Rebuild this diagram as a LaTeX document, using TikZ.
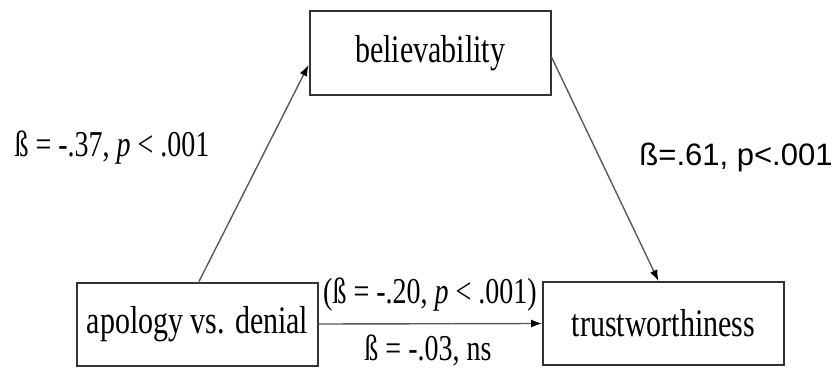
\documentclass[tikz,border=0pt]{standalone}
\usepackage{fontspec}
\setmainfont{Liberation Serif}
\newfontfamily\arialfont{Liberation Sans}
\usetikzlibrary{arrows.meta}
\newcommand{\stretchy}[1]{\scalebox{1}[1.3]{#1}}
\begin{document}
\begin{tikzpicture}[x=1pt, y=-1pt,
        box/.style={draw=black!80, line width=2pt, minimum width=241pt, minimum height=83pt, inner sep=0pt, font=\fontsize{30}{36}\selectfont},
        link/.style={draw=black!65, line width=1.4pt, -{Latex[length=11pt,width=8pt,color=black]}},
        coef/.style={inner sep=0pt, font=\fontsize{28}{34}\selectfont},
        sanscoef/.style={inner sep=0pt, font=\arialfont\fontsize{31}{36}\selectfont}]
    \useasboundingbox (0,0) rectangle (838,369);
    \node[box] (bel) at (430,53) {\stretchy{believability}};
    \node[box] (apo) at (197.5,324) {\stretchy{apology vs. denial}};
    \node[box] (trust) at (663.5,323.5) {\stretchy{trustworthiness}};
    \draw[link] ([xshift=1.5pt]apo.north) -- ([yshift=-12pt]bel.west);
    \draw[link] ([yshift=-4pt]bel.east) -- ([xshift=-5pt]trust.north);
    \draw[link] (apo.east) -- (trust.west);
    \node[coef] (a2b) at (112,148) {\stretchy{ß = -.37, \textit{p} < .001}};
    \node[sanscoef] (b2t) at (736,157) {ß=.61, p<.001};
    \node[coef] (a2t) at (430,295) {\stretchy{(ß = -.20, \textit{p} < .001)}};
    \node[coef] (a2tdir) at (428,350) {\stretchy{ß = -.03, ns}};
\end{tikzpicture}
\end{document}
